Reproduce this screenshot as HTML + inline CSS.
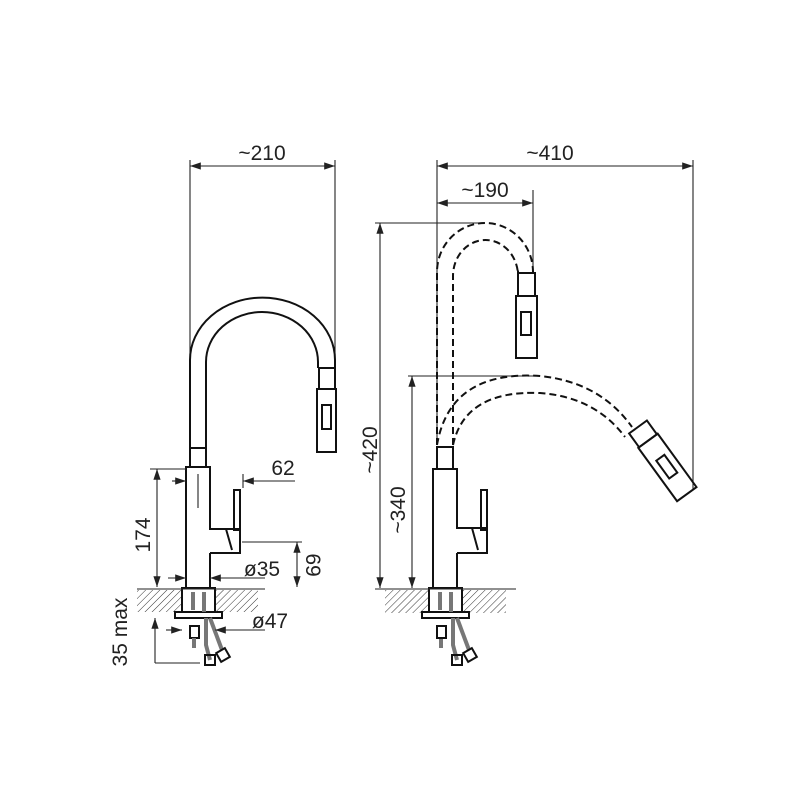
<!DOCTYPE html>
<html><head><meta charset="utf-8"><style>
html,body{margin:0;padding:0;background:#fff}
svg{display:block}
text{font-family:"Liberation Sans",sans-serif;fill:#222;font-size:21px}
</style></head><body>
<svg width="800" height="800" viewBox="0 0 800 800" xmlns="http://www.w3.org/2000/svg">
<defs>
<pattern id="h" width="5" height="5" patternUnits="userSpaceOnUse" patternTransform="rotate(45)">
<line x1="0" y1="0" x2="0" y2="5" stroke="#333" stroke-width="1"/>
</pattern>
<marker id="a" viewBox="0 0 12 10" refX="12" refY="5" markerWidth="12" markerHeight="9" orient="auto-start-reverse" markerUnits="userSpaceOnUse"><path d="M0,1 L12,5 L0,9z" fill="#222"/></marker>
</defs>
<g fill="none" stroke="#222" stroke-width="1.1">
<line x1="190" y1="160" x2="190" y2="450"/>
<line x1="335" y1="160" x2="335" y2="368"/>
<line x1="190" y1="166" x2="335" y2="166" marker-start="url(#a)" marker-end="url(#a)"/>
</g>
<g fill="none" stroke="#111" stroke-width="2">
<path d="M190,450 V360 A72,62 0 0 1 335,360 V368"/>
<path d="M206,450 V362 A56,50 0 0 1 318,362 V368"/>
<rect x="190" y="448" width="16" height="19"/>
<rect x="319" y="368" width="16" height="21"/>
<rect x="317" y="389" width="19" height="63"/>
<rect x="322" y="405" width="9" height="24"/>
<path d="M186,587 V467 H210 V529 H226 M210,553 V587"/>
<rect x="234" y="490" width="6" height="40"/>
<path d="M226,529 H240 V553 H210 M226,529 L232,550"/>
<rect x="182" y="588" width="33" height="24"/>
<rect x="175" y="612" width="47" height="6"/>
<rect x="190" y="626" width="9" height="12"/>
</g>
<rect x="137" y="590" width="121" height="22" fill="url(#h)"/>
<rect x="183" y="590" width="31" height="21" fill="#fff"/>
<rect x="182" y="588" width="33" height="24" fill="none" stroke="#111" stroke-width="2"/>
<line x1="137" y1="589" x2="265" y2="589" stroke="#222" stroke-width="1"/>
<g stroke="#777" stroke-width="4" fill="none">
<line x1="193" y1="592" x2="193" y2="610"/>
<line x1="204" y1="592" x2="204" y2="612"/>
<line x1="194" y1="638" x2="194" y2="648"/>
<path d="M206,618 V645 L210,660"/><path d="M210,618 L222,650"/>
</g>
<g fill="none" stroke="#111" stroke-width="2">
<rect x="205" y="655" width="10" height="10"/><rect x="218" y="650" width="10" height="10" transform="rotate(-30 223 655)"/>
</g>
<g fill="none" stroke="#222" stroke-width="1.1">
<line x1="150" y1="469" x2="186" y2="469"/>
<line x1="157" y1="469" x2="157" y2="587" marker-start="url(#a)" marker-end="url(#a)"/>
<line x1="172" y1="481" x2="186" y2="481" marker-end="url(#a)"/>
<line x1="243" y1="481" x2="295" y2="481" marker-start="url(#a)"/>
<line x1="243" y1="474" x2="243" y2="488"/>
<line x1="198" y1="474" x2="198" y2="508"/>
<line x1="242" y1="542" x2="302" y2="542"/>
<line x1="297" y1="542" x2="297" y2="587" marker-start="url(#a)" marker-end="url(#a)"/>
<line x1="168" y1="578" x2="186" y2="578" marker-end="url(#a)"/>
<line x1="210" y1="578" x2="265" y2="578" marker-start="url(#a)"/>
<line x1="166" y1="630" x2="182" y2="630" marker-end="url(#a)"/>
<line x1="215" y1="630" x2="265" y2="630" marker-start="url(#a)"/>
<line x1="155" y1="663" x2="155" y2="618" marker-end="url(#a)"/>
<line x1="155" y1="663" x2="200" y2="663"/>
</g>
<text x="262" y="160" text-anchor="middle">~210</text>
<text x="283" y="475" text-anchor="middle">62</text>
<text x="262" y="576" text-anchor="middle">ø35</text>
<text x="270" y="628" text-anchor="middle">ø47</text>
<text transform="translate(150,535) rotate(-90)" text-anchor="middle">174</text>
<text transform="translate(306,565) rotate(90)" text-anchor="middle">69</text>
<text transform="translate(127,632) rotate(-90)" text-anchor="middle">35 max</text>

<g fill="none" stroke="#222" stroke-width="1.1">
<line x1="437" y1="160" x2="437" y2="440"/>
<line x1="693" y1="160" x2="693" y2="490"/>
<line x1="437" y1="166" x2="693" y2="166" marker-start="url(#a)" marker-end="url(#a)"/>
<line x1="533" y1="190" x2="533" y2="268"/>
<line x1="437" y1="203" x2="533" y2="203" marker-start="url(#a)" marker-end="url(#a)"/>
<line x1="375" y1="223" x2="480" y2="223"/>
<line x1="380" y1="223" x2="380" y2="588" marker-start="url(#a)" marker-end="url(#a)"/>
<line x1="408" y1="376" x2="540" y2="376"/>
<line x1="412" y1="376" x2="412" y2="588" marker-start="url(#a)" marker-end="url(#a)"/>
</g>
<g fill="none" stroke="#111" stroke-width="2" stroke-dasharray="7,4">
<path d="M437,445 V272 A48,49 0 0 1 533,272 V270"/>
<path d="M453,445 V276 A32.5,36 0 0 1 518,276 V270"/>
<path d="M437,445 Q450,370 540,376 Q600,382 632,427"/>
<path d="M453,445 Q465,390 540,393 Q595,397 625,437"/>
</g>
<g fill="none" stroke="#111" stroke-width="2">
<rect x="518" y="273" width="17" height="23"/>
<rect x="516" y="296" width="21" height="62"/>
<rect x="521" y="312" width="10" height="23"/>
<g transform="translate(638,427) rotate(54)">
<rect x="0" y="-11" width="17" height="22"/>
<rect x="17" y="-12" width="66" height="24"/>
<rect x="38" y="-5" width="22" height="10"/>
</g>
<path d="M433,588 V469 H457 V528 H472 M457,553 V588"/>
<rect x="437" y="447" width="16" height="22"/>
<rect x="481" y="490" width="6" height="40"/>
<path d="M472,528 H487 V553 H457 M472,528 L478,550"/>
</g>
<rect x="385" y="590" width="121" height="23" fill="url(#h)"/>
<rect x="430" y="590" width="31" height="21" fill="#fff"/>
<rect x="429" y="588" width="33" height="24" fill="none" stroke="#111" stroke-width="2"/>
<rect x="422" y="612" width="47" height="6" fill="none" stroke="#111" stroke-width="2"/>
<line x1="375" y1="589" x2="516" y2="589" stroke="#222" stroke-width="1"/>
<g stroke="#777" stroke-width="4" fill="none">
<line x1="440" y1="592" x2="440" y2="610"/>
<line x1="451" y1="592" x2="451" y2="612"/>
<line x1="441" y1="638" x2="441" y2="648"/>
<path d="M453,618 V645 L457,660"/><path d="M457,618 L469,650"/>
</g>
<g fill="none" stroke="#111" stroke-width="2">
<rect x="437" y="626" width="9" height="12"/>
<rect x="452" y="655" width="10" height="10"/><rect x="465" y="650" width="10" height="10" transform="rotate(-30 470 655)"/>
</g>
<text x="550" y="160" text-anchor="middle">~410</text>
<text x="485" y="197" text-anchor="middle">~190</text>
<text transform="translate(377,450) rotate(-90)" text-anchor="middle">~420</text>
<text transform="translate(405,510) rotate(-90)" text-anchor="middle">~340</text>
</svg>
</body></html>
